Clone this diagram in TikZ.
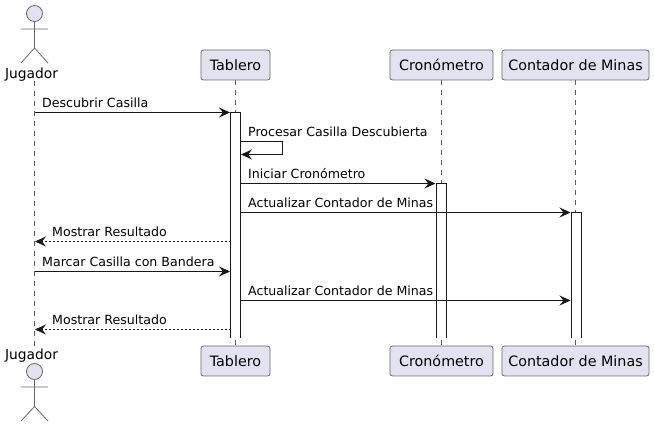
\documentclass[tikz,border=0pt]{standalone}
\usepackage{fontspec}
\setmainfont{DejaVu Sans}
\usetikzlibrary{arrows.meta}
\definecolor{umlfill}{RGB}{226,226,240}
\definecolor{umlline}{RGB}{24,24,24}
\tikzset{
    party/.style={draw=umlline!65, line width=0.8pt, fill=umlfill, rounded corners=2.5pt, minimum height=30pt, inner sep=0pt, font=\fontsize{14.3}{16}\selectfont},
    actorname/.style={inner sep=0pt, font=\fontsize{13.8}{16}\selectfont},
    msgtext/.style={inner sep=0pt, anchor=base west, font=\fontsize{12.6}{15}\selectfont},
    lifeline/.style={umlline!70, line width=0.6pt, dash pattern=on 5pt off 5pt},
    actorline/.style={umlline!65, line width=0.8pt},
    msg/.style={umlline, line width=0.9pt, -{Stealth[length=11pt,width=10pt,inset=4pt]}},
    reply/.style={msg, dash pattern=on 2pt off 2pt},
    activebar/.style={umlline, line width=0.9pt}
}

\begin{document}
\begin{tikzpicture}[x=1pt, y=-1pt]
        \useasboundingbox (0,0) rectangle (654,427);

        % participants
        \node[party, minimum width=69pt] (tableroT) at (235.5,65) {Tablero};
        \node[party, minimum width=103pt] (cronoT) at (441.5,65) {Cronómetro};
        \node[party, minimum width=147pt] (minasT) at (575.5,65) {Contador de Minas};
        \node[party, minimum width=69pt] (tableroB) at (235.5,361) {Tablero};
        \node[party, minimum width=103pt] (cronoB) at (441.5,361) {Cronómetro};
        \node[party, minimum width=147pt] (minasB) at (575.5,361) {Contador de Minas};
        \node[actorname] (jugadorT) at (31.5,74.5) {Jugador};
        \node[actorname] (jugadorB) at (31.5,355.5) {Jugador};

        % actors
        \draw[actorline, fill=umlfill] (34.5,13.5) circle (8);
        \draw[actorline] (34.5,21.5) -- (34.5,48) (21,29) -- (48,29) (21,63) -- (34.5,48) -- (48,63);
        \draw[actorline, fill=umlfill] (34.5,371.5) circle (8);
        \draw[actorline] (34.5,379.5) -- (34.5,406.5) (21,387) -- (48,387) (21,421) -- (34.5,406.5) -- (48,421);

        % lifelines
        \coordinate (jugadorA) at (34.5,81);
        \coordinate (jugadorZ) at (34.5,346);
        \draw[lifeline] (jugadorA) -- (jugadorZ);
        \draw[lifeline] (tableroT) -- (tableroB);
        \draw[lifeline] (cronoT) -- (cronoB);
        \draw[lifeline] (minasT) -- (minasB);

        % activations, open at the bottom
        \fill[white] (230.5,112.5) rectangle (240.5,338);
        \draw[activebar] (230.5,338) -- (230.5,112.5) -- (240.5,112.5) -- (240.5,338);
        \fill[white] (436,183.5) rectangle (446,338);
        \draw[activebar] (436,338) -- (436,183.5) -- (446,183.5) -- (446,338);
        \fill[white] (571,212.5) rectangle (581,338);
        \draw[activebar] (571,338) -- (571,212.5) -- (581,212.5) -- (581,338);

        % message ends
        \coordinate (a1) at (34.5,112.5);
        \coordinate (b1) at (230,112.5);
        \coordinate (a2) at (240.5,141.5);
        \coordinate (b2) at (241,154.5);
        \coordinate (a3) at (240.5,183.5);
        \coordinate (b3) at (435.5,183.5);
        \coordinate (a4) at (240.5,212.5);
        \coordinate (b4) at (570.5,212.5);
        \coordinate (a5) at (230.5,241.5);
        \coordinate (b5) at (35,241.5);
        \coordinate (a6) at (34.5,271.5);
        \coordinate (b6) at (230,271.5);
        \coordinate (a7) at (240.5,300.5);
        \coordinate (b7) at (570.5,300.5);
        \coordinate (a8) at (230.5,329.5);
        \coordinate (b8) at (35,329.5);

        \draw[msg] (a1) -- (b1);
        \draw[msg] (a2) -- (282.5,141.5) -- (282.5,154.5) -- (b2);
        \draw[msg] (a3) -- (b3);
        \draw[msg] (a4) -- (b4);
        \draw[reply] (a5) -- (b5);
        \draw[msg] (a6) -- (b6);
        \draw[msg] (a7) -- (b7);
        \draw[reply] (a8) -- (b8);

        % message labels
        \node[msgtext] (t1) at (42,107.5) {Descubrir Casilla};
        \node[msgtext] (t2) at (248,136.5) {Procesar Casilla Descubierta};
        \node[msgtext] (t3) at (248,178.5) {Iniciar Cronómetro};
        \node[msgtext] (t4) at (248,207.5) {Actualizar Contador de Minas};
        \node[msgtext] (t5) at (52,236.5) {Mostrar Resultado};
        \node[msgtext] (t6) at (42,266.5) {Marcar Casilla con Bandera};
        \node[msgtext] (t7) at (248,295.5) {Actualizar Contador de Minas};
        \node[msgtext] (t8) at (52,324.5) {Mostrar Resultado};

\end{tikzpicture}
\end{document}
